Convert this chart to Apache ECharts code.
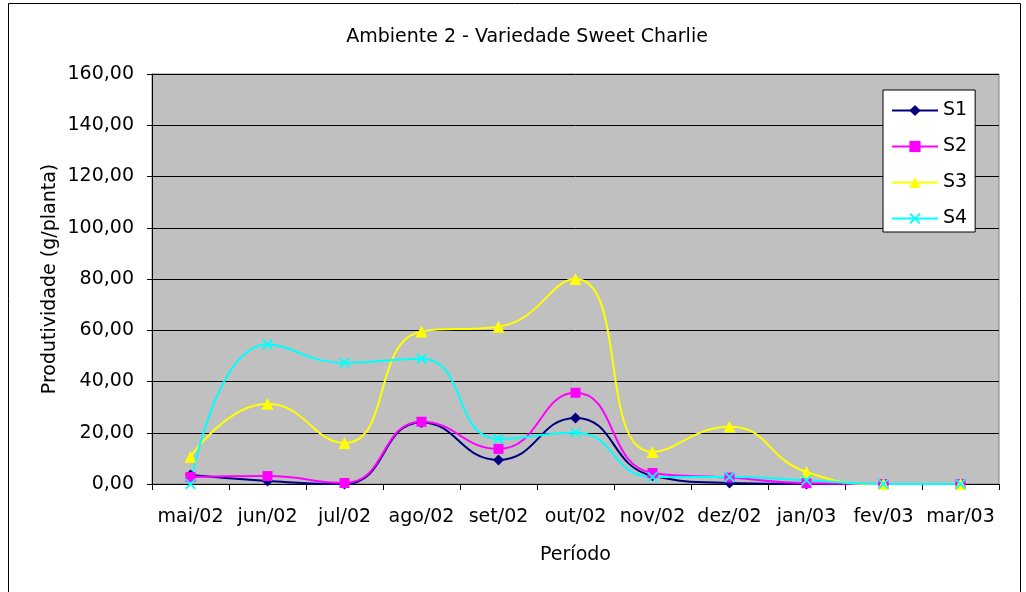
<!DOCTYPE html>
<html>
<head>
<meta charset="utf-8">
<script src="https://cdn.jsdelivr.net/npm/echarts@6/dist/echarts.min.js"></script>
<style>
  html, body { margin: 0; padding: 0; background: #fff; }
  #chart { width: 1026px; height: 592px; }
</style>
</head>
<body>
<div id="chart"></div>
<script>
// dados
const periodos = ['mai/02', 'jun/02', 'jul/02', 'ago/02', 'set/02', 'out/02', 'nov/02', 'dez/02', 'jan/03', 'fev/03', 'mar/03']
const s1 = [3.5, 1.2, 0, 24.0, 9.4, 25.8, 3.2, 0.4, 0, 0, 0]
const s2 = [2.7, 3.1, 0.4, 24.3, 13.7, 35.6, 4.3, 2.5, 0.3, 0, 0]
const s3 = [10.6, 31.3, 16.0, 59.5, 61.4, 80.0, 12.5, 22.3, 4.7, 0, 0]
const s4 = [0, 54.4, 47.3, 48.9, 17.6, 20.0, 2.7, 2.7, 1.5, 0, 0]

const fonte = 'DejaVu Sans, Verdana, sans-serif'
const xis = 'path://M0,1.2L1.2,0L5,3.8L8.8,0L10,1.2L6.2,5L10,8.8L8.8,10L5,6.2L1.2,10L0,8.8L3.8,5Z'

function serie (nome, dados, cor, simbolo, tamanho) {
    return {
        name: nome,
        type: 'line',
        data: dados,
        smooth: 0.5,
        symbol: simbolo,
        symbolSize: tamanho,
        lineStyle: { color: cor, width: 2 },
        itemStyle: { color: cor },
        emphasis: { disabled: true }
    }
}

const chart = echarts.init(document.getElementById('chart'))
chart.setOption({
    animation: false,
    title: {
        text: 'Ambiente 2 - Variedade Sweet Charlie',
        left: 522,
        textAlign: 'center',
        top: 23,
        textStyle: { fontFamily: fonte, fontSize: 19, fontWeight: 'normal', color: '#000' }
    },
    graphic: [{
        type: 'rect',
        shape: { x: 8.5, y: 3.5, width: 1012, height: 640 },
        style: { fill: 'none', stroke: '#000', lineWidth: 1 },
        silent: true
    }],
    legend: {
        orient: 'vertical',
        left: 883,
        top: 90,
        padding: [11, 8, 4, 8],
        itemWidth: 46,
        itemHeight: 14,
        itemGap: 17,
        backgroundColor: '#fff',
        borderColor: '#000',
        borderWidth: 1,
        borderRadius: 0,
        textStyle: { fontFamily: fonte, fontSize: 19, color: '#000' },
        data: ['S1', 'S2', 'S3', 'S4']
    },
    grid: {
        left: 152,
        right: 27,
        top: 74,
        bottom: 108,
        show: true,
        backgroundColor: '#C0C0C0',
        borderColor: '#808080',
        borderWidth: 1
    },
    xAxis: {
        type: 'category',
        data: periodos,
        boundaryGap: true,
        name: 'Período',
        nameLocation: 'middle',
        nameGap: 62,
        nameMoveOverlap: false,
        nameTextStyle: { fontFamily: fonte, fontSize: 19, color: '#000' },
        axisLine: { lineStyle: { color: '#000', width: 1 } },
        axisTick: { show: true, length: 6, alignWithLabel: false, lineStyle: { color: '#000' } },
        axisLabel: { fontFamily: fonte, fontSize: 19, color: '#000', margin: 24, interval: 0 }
    },
    yAxis: {
        type: 'value',
        min: 0,
        max: 160,
        interval: 20,
        name: 'Produtividade (g/planta)',
        nameLocation: 'middle',
        nameRotate: 90,
        nameGap: 92,
        nameMoveOverlap: false,
        nameTextStyle: { fontFamily: fonte, fontSize: 19, color: '#000' },
        axisLine: { show: true, lineStyle: { color: '#000', width: 1 } },
        axisTick: { show: true, length: 5, lineStyle: { color: '#000' } },
        axisLabel: {
            fontFamily: fonte, fontSize: 19, color: '#000', margin: 18,
            formatter: v => v.toFixed(2).replace('.', ',')
        },
        splitLine: { show: true, lineStyle: { color: '#000', width: 1 } }
    },
    series: [
        serie('S1', s1, '#000080', 'diamond', 11),
        serie('S2', s2, '#FF00FF', 'rect', 10),
        serie('S3', s3, '#FFFF00', 'triangle', 12),
        serie('S4', s4, '#00FFFF', xis, 11)
    ]
})
</script>
</body>
</html>
